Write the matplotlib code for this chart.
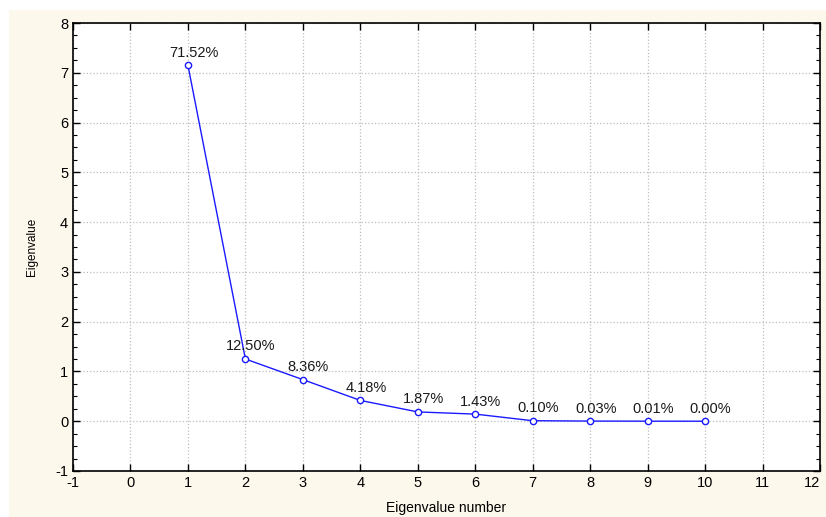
import matplotlib
matplotlib.use("Agg")
import matplotlib.pyplot as plt
from matplotlib.patches import Rectangle
from matplotlib.ticker import MultipleLocator

numbers = [1, 2, 3, 4, 5, 6, 7, 8, 9, 10]
eigenvalues = [7.152, 1.250, 0.836, 0.418, 0.187, 0.143, 0.010, 0.003, 0.001, 0.000]
labels = ["71.52%", "12.50%", "8.36%", "4.18%", "1.87%", "1.43%", "0.10%", "0.03%", "0.01%", "0.00%"]
xticks = list(range(-1, 13))
yticks = list(range(-1, 9))

plt.rcParams['font.family'] = ['Liberation Sans', 'DejaVu Sans']
plt.rcParams['axes.unicode_minus'] = False

fig = plt.figure(figsize=(8.26, 5.17), dpi=100)
fig.patch.set_facecolor('white')
fig.patches.append(Rectangle((9/826, 0), 1 - 9/826, 1 - 10/517, transform=fig.transFigure,
                             facecolor='#fdf8ec', edgecolor='none', zorder=-10))

ax = fig.add_axes([73/826, 1 - 471/517, (820 - 73)/826, (471 - 23)/517])
ax.set_facecolor('white')
ax.plot(numbers, eigenvalues, color='#1a1aff', lw=1.0, marker='o', ms=4.5,
        mfc='white', mec='#1a1aff', mew=1.0, zorder=3)
for x, y, t in zip(numbers, eigenvalues, labels):
    ax.annotate(t, (x, y), xytext=(4, 4), textcoords='offset points',
                ha='center', va='bottom', fontsize=10.5, color='#1a1a1a', zorder=4)

ax.set_xlim(-1, 12)
ax.set_ylim(-1, 8)
ax.set_xticks(xticks)
ax.set_yticks(yticks)
ax.yaxis.set_minor_locator(MultipleLocator(0.25))
ax.grid(True, which='major', color='#bdbdbd', linestyle=':', lw=0.9)
ax.tick_params(which='both', direction='in', top=True, right=True, labelsize=10.5, colors='black')
ax.tick_params(which='major', length=5, width=1)
ax.tick_params(which='minor', length=3, width=0.8)
ax.tick_params(axis='x', which='minor', bottom=False, top=False)
for s in ax.spines.values():
    s.set_linewidth(1.2)
ax.set_xlabel('Eigenvalue number', fontsize=10, labelpad=8)
ax.set_ylabel('Eigenvalue', fontsize=8.5, labelpad=12)

fig.canvas.draw()
last = ax.get_xticklabels()[-1]
last.set_horizontalalignment('right')
last.set_x(last.get_position()[0])

fig.savefig('out.png', dpi=100)
